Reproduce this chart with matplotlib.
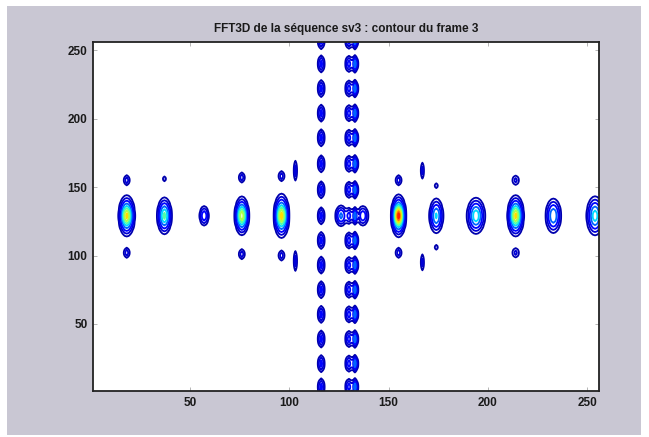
import matplotlib
matplotlib.use("Agg")
import matplotlib.pyplot as plt
import numpy as np
from matplotlib.patches import Rectangle

# main row of spectral peaks (y ~ 129)
row_y = 129
row_x = [18, 37, 57, 76, 96, 155, 174, 194, 214, 233, 254]
row_amp = [0.74, 0.50, 0.20, 0.70, 0.76, 0.97, 0.36, 0.45, 0.74, 0.34, 0.42]
row_sx = [1.6, 1.5, 1.1, 1.4, 1.5, 1.4, 1.5, 1.9, 1.6, 1.7, 1.8]
row_sy = [5.8, 5.5, 3.5, 5.5, 6.2, 5.8, 5.5, 5.5, 5.8, 5.5, 6.0]

# small side lobes around the peaks
sat_x = [18, 18, 37, 76, 76, 96, 96, 103, 103, 155, 155, 167, 167, 174, 174, 214, 214]
sat_y = [155, 102, 156, 157, 101, 158, 100, 162, 96, 155, 102, 162, 95, 151, 106, 155, 102]
sat_amp = [0.10, 0.10, 0.06, 0.10, 0.10, 0.10, 0.10, 0.09, 0.09, 0.10, 0.10, 0.08, 0.08, 0.06, 0.06, 0.08, 0.08]
sat_sx = [0.8, 0.8, 0.6, 0.8, 0.8, 0.8, 0.8, 0.5, 0.5, 0.8, 0.8, 0.5, 0.5, 0.6, 0.6, 1.0, 1.0]
sat_sy = [2.2, 2.2, 1.3, 2.2, 2.2, 2.2, 2.2, 4.5, 4.5, 2.2, 2.2, 3.8, 3.8, 1.3, 1.3, 2.2, 2.2]

# the two vertical columns of blobs
col_y = [4, 21, 39, 57, 75, 93, 111, 129, 148, 167, 186, 204, 222, 240, 257]
col1_x, col1_amp = 116, 0.16
col2_x, col2_amp = 130, 0.17
col3_x, col3_amp = 133, 0.33

# extra blobs in the centre
mid_x = [126, 137]
mid_amp = [0.26, 0.20]

xticks = [50, 100, 150, 200, 250]
yticks = [50, 100, 150, 200, 250]

n = 256
x = np.arange(1, n + 1)
X, Y = np.meshgrid(x, x)


def blob(x0, y0, a, sx, sy):
    return a * np.exp(-0.5 * (((X - x0) / sx) ** 2 + ((Y - y0) / sy) ** 2))


Z = np.zeros_like(X, dtype=float)
for xx, a, sx, sy in zip(row_x, row_amp, row_sx, row_sy):
    Z += blob(xx, row_y, a, sx, sy)
for xx, yy, a, sx, sy in zip(sat_x, sat_y, sat_amp, sat_sx, sat_sy):
    Z += blob(xx, yy, a, sx, sy)
for yy in col_y:
    Z += blob(col1_x, yy, col1_amp, 0.8, 3.2)
    Z += blob(col2_x, yy, col2_amp, 0.9, 3.0)
    Z += blob(col3_x, yy, col3_amp, 0.6, 2.8)
for xx, a in zip(mid_x, mid_amp):
    Z += blob(xx, row_y, a, 1.3, 3.5)

levels = [0.025, 0.06, 0.12, 0.22, 0.34, 0.46, 0.58, 0.70, 0.82, 0.92]

fig = plt.figure(figsize=(6.49, 4.37), dpi=100, facecolor="white")
fig.patches.append(Rectangle((7 / 649, 2 / 437), 634 / 649, 429 / 437,
                             transform=fig.transFigure, facecolor="#c9c7d3",
                             edgecolor="none", zorder=-5))
ax = fig.add_axes([93 / 649, 46 / 437, 506 / 649, 349 / 437])
ax.set_facecolor("white")
ax.contour(X, Y, Z, levels=levels, cmap="jet", vmin=-0.02, vmax=1.05, linewidths=1.3)

ax.set_xlim(1, 256)
ax.set_ylim(1, 256)
ax.set_xticks(xticks)
ax.set_yticks(yticks)
ax.tick_params(direction="in", length=3, width=0.6, top=True, right=True,
               labelsize=8.5, colors="#aaaaaa", labelcolor="#1a1a1a", pad=4)
for lab in ax.get_xticklabels() + ax.get_yticklabels():
    lab.set_fontweight("bold")
    lab.set_family("Liberation Sans")
for s in ax.spines.values():
    s.set_color("#222222")
    s.set_linewidth(1.3)

ax.set_title("FFT3D de la séquence sv3 : contour du frame 3", fontsize=8.5,
             fontweight="bold", family="Liberation Sans", color="#1a1a1a", pad=7)

fig.savefig("out.png", dpi=100, facecolor=fig.get_facecolor())
